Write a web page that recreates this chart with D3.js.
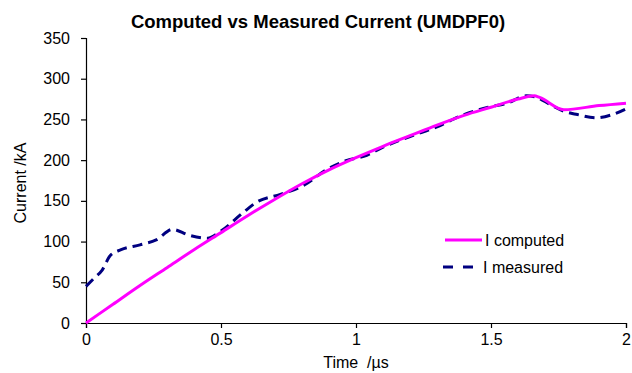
<!DOCTYPE html>
<html>
<head>
<meta charset="utf-8">
<script src="https://cdn.jsdelivr.net/npm/d3@7"></script>
<style>
  body { margin: 0; background: #fff; }
  text { font-family: "Liberation Sans", Arial, sans-serif; white-space: pre; }
</style>
</head>
<body>
<div id="chart"></div>
<script>
// computed current [time us, current kA]
var computedT = [0, 0.1, 0.2, 0.3, 0.4, 0.5, 0.6, 0.7, 0.8, 0.9, 1.0, 1.1, 1.2, 1.3, 1.4, 1.5, 1.6, 1.66, 1.68, 1.77, 1.9, 2.0];
var computedI = [0, 23, 46, 68, 90, 111, 132, 152, 171, 188, 203, 217, 230, 243, 255, 265, 275, 279, 277, 262, 267, 270];

// measured current
var measuredT = [0, 0.03, 0.06, 0.09, 0.13, 0.2, 0.26, 0.32, 0.38, 0.45, 0.5, 0.58, 0.63, 0.72, 0.8, 0.9, 0.96, 1.04, 1.1, 1.2, 1.3, 1.4, 1.49, 1.56, 1.63, 1.67, 1.72, 1.77, 1.82, 1.89, 1.95, 2.0];
var measuredI = [45, 55, 65, 83, 90, 96, 102, 115, 108, 104, 113, 135, 148, 158, 168, 190, 199, 206, 216, 229, 241, 256, 265, 270, 279, 277, 268, 260, 256, 252, 256, 263];

var xTicks = [0, 0.5, 1, 1.5, 2];
var yTicks = [0, 50, 100, 150, 200, 250, 300, 350];

var margin = {top: 38, right: 6, bottom: 50, left: 86},
    width = 632 - margin.left - margin.right,
    height = 373 - margin.top - margin.bottom;

var svg = d3.select("#chart").append("svg")
    .attr("width", 632)
    .attr("height", 373);

var g = svg.append("g")
    .attr("transform", "translate(" + margin.left + "," + margin.top + ")");

var x = d3.scaleLinear().domain([0, 2]).range([0, width]);
var y = d3.scaleLinear().domain([0, 350]).range([height, 0]);

// axes
var xAxis = g.append("g")
    .attr("transform", "translate(0," + height + ")")
    .call(d3.axisBottom(x).tickValues(xTicks).tickSize(5).tickPadding(6)
        .tickFormat(function (d) { return d; }));
var yAxis = g.append("g")
    .call(d3.axisLeft(y).tickValues(yTicks).tickSize(5).tickPadding(11));

[xAxis, yAxis].forEach(function (a) {
    a.select(".domain").attr("stroke", "#000").attr("stroke-width", 1.2);
    a.selectAll(".tick line").attr("stroke", "#000").attr("stroke-width", 1.2);
    a.selectAll("text").style("font-size", "16px").attr("fill", "#000")
        .style("font-family", "'Liberation Sans', Arial, sans-serif");
});

var line = d3.line()
    .x(function (d) { return x(d[0]); })
    .y(function (d) { return y(d[1]); })
    .curve(d3.curveMonotoneX);

var measured = measuredT.map(function (t, i) { return [t, measuredI[i]]; });
var computed = computedT.map(function (t, i) { return [t, computedI[i]]; });

g.append("path")
    .datum(measured)
    .attr("fill", "none")
    .attr("stroke", "#000080")
    .attr("stroke-width", 3)
    .attr("stroke-dasharray", "10,6")
    .attr("d", line);

g.append("path")
    .datum(computed)
    .attr("fill", "none")
    .attr("stroke", "#ff00ff")
    .attr("stroke-width", 3)
    .attr("d", line);

// title
svg.append("text")
    .attr("x", 318)
    .attr("y", 28)
    .attr("text-anchor", "middle")
    .style("font-size", "18.5px")
    .style("font-weight", "bold")
    .text("Computed vs Measured Current (UMDPF0)");

// axis labels
svg.append("text")
    .attr("x", 356)
    .attr("y", 368)
    .attr("text-anchor", "middle")
    .style("font-size", "16px")
    .text("Time  /\u00b5s");

svg.append("text")
    .attr("transform", "rotate(-90)")
    .attr("x", -183)
    .attr("y", 26)
    .attr("text-anchor", "middle")
    .style("font-size", "16px")
    .text("Current /kA");

// legend
var legend = svg.append("g");
legend.append("line")
    .attr("x1", 445).attr("x2", 482).attr("y1", 240).attr("y2", 240)
    .attr("stroke", "#ff00ff").attr("stroke-width", 3);
legend.append("text")
    .attr("x", 485).attr("y", 246)
    .style("font-size", "16px")
    .text("I computed");
legend.append("line")
    .attr("x1", 443).attr("x2", 473).attr("y1", 267).attr("y2", 267)
    .attr("stroke", "#000080").attr("stroke-width", 3)
    .attr("stroke-dasharray", "10,10");
legend.append("text")
    .attr("x", 483).attr("y", 273)
    .style("font-size", "16px")
    .text("I measured");
</script>
</body>
</html>
